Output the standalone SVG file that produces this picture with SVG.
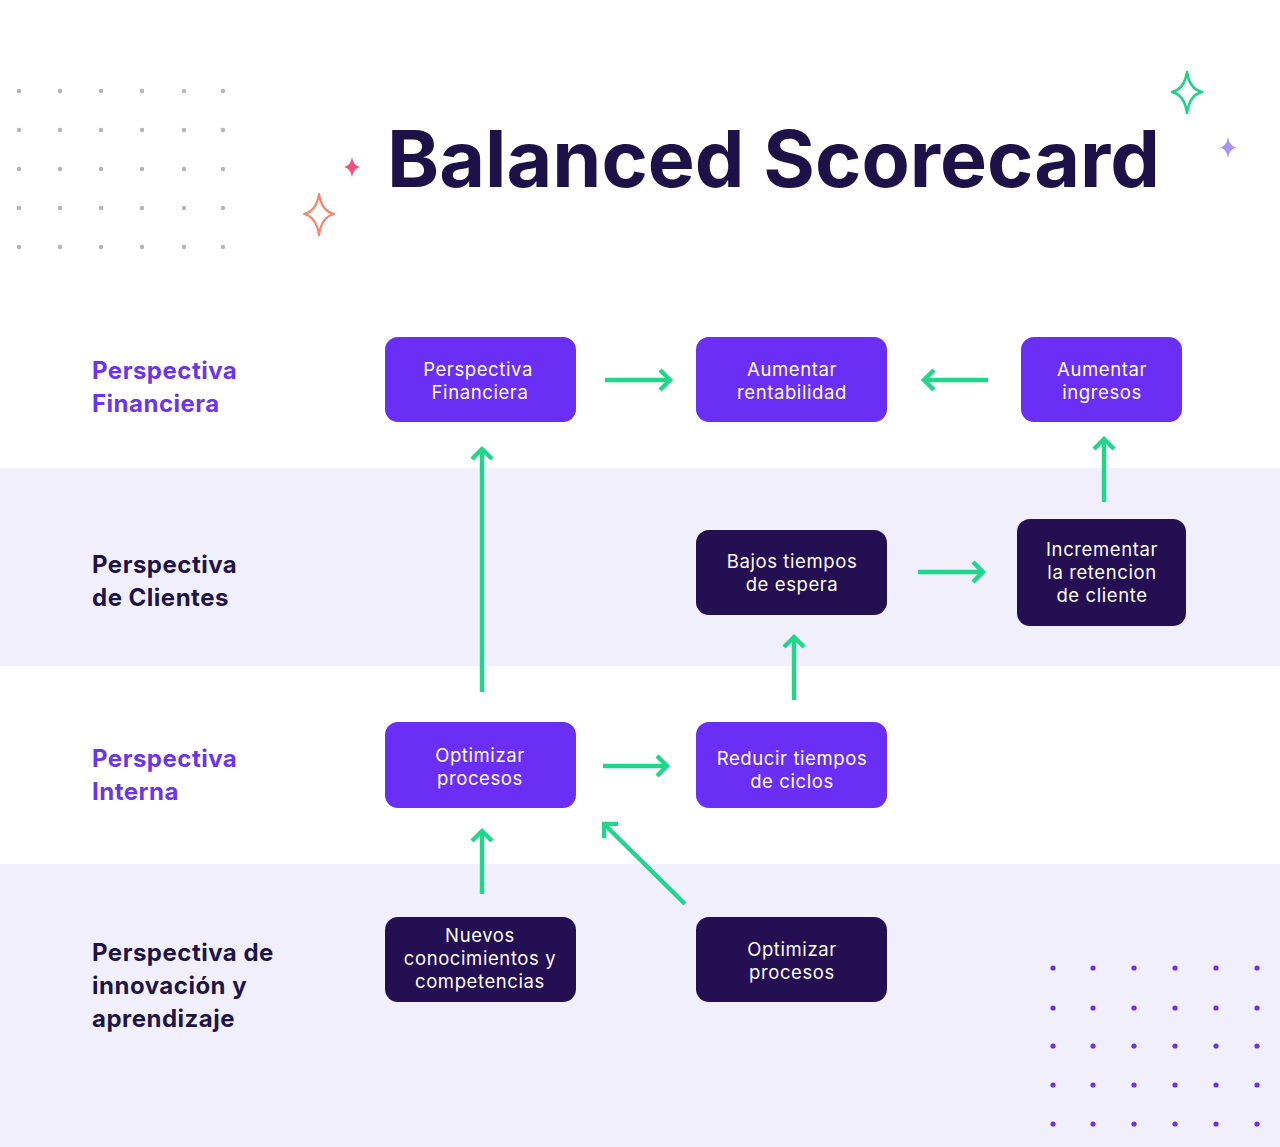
<svg xmlns="http://www.w3.org/2000/svg" width="1280" height="1147" viewBox="0 0 1280 1147">
<defs>
<style>
.band{fill:#f1effb}
.dotg{fill:#b3b3b8}
.dotp{fill:#6a32ea}
.title{font-family:Inter,"Noto Sans","Liberation Sans",sans-serif;font-weight:700;font-size:78px;fill:#1c1248}
.lab{font-family:Inter,"Noto Sans","Liberation Sans",sans-serif;font-weight:700;font-size:24px;letter-spacing:0.5px}
.labp{fill:#6a35ef}
.labd{fill:#1e1446}
.np{fill:#6b2ef5}
.nd{fill:#240f52}
.nt{font-family:Inter,"Noto Sans","Liberation Sans",sans-serif;font-weight:400;font-size:18.5px;letter-spacing:0.6px;fill:#ffffff;text-anchor:middle}
.arr{stroke:#1fd68b;stroke-width:4.4;fill:none;marker-end:url(#ah)}
</style>
<marker id="ah" markerUnits="userSpaceOnUse" markerWidth="30" markerHeight="30" viewBox="-15 -15 30 30" refX="0" refY="0" orient="auto">
<path d="M-10,-10 L0,0 L-10,10" fill="none" stroke="#1fd68b" stroke-width="4.4" stroke-linecap="butt" stroke-linejoin="miter"/>
</marker>
</defs>
<rect width="1280" height="1147" fill="#ffffff"/>
<rect class="band" x="0" y="468" width="1280" height="198"/>
<rect class="band" x="0" y="864" width="1280" height="283"/>

<g id="dots-top-left">
<g class="dotg">
<circle cx="19" cy="91" r="2.2"/><circle cx="60" cy="91" r="2.2"/><circle cx="101" cy="91" r="2.2"/><circle cx="142" cy="91" r="2.2"/><circle cx="184" cy="91" r="2.2"/><circle cx="223" cy="91" r="2.2"/>
<circle cx="19" cy="130" r="2.2"/><circle cx="60" cy="130" r="2.2"/><circle cx="101" cy="130" r="2.2"/><circle cx="142" cy="130" r="2.2"/><circle cx="184" cy="130" r="2.2"/><circle cx="223" cy="130" r="2.2"/>
<circle cx="19" cy="169" r="2.2"/><circle cx="60" cy="169" r="2.2"/><circle cx="101" cy="169" r="2.2"/><circle cx="142" cy="169" r="2.2"/><circle cx="184" cy="169" r="2.2"/><circle cx="223" cy="169" r="2.2"/>
<circle cx="19" cy="208" r="2.2"/><circle cx="60" cy="208" r="2.2"/><circle cx="101" cy="208" r="2.2"/><circle cx="142" cy="208" r="2.2"/><circle cx="184" cy="208" r="2.2"/><circle cx="223" cy="208" r="2.2"/>
<circle cx="19" cy="247" r="2.2"/><circle cx="60" cy="247" r="2.2"/><circle cx="101" cy="247" r="2.2"/><circle cx="142" cy="247" r="2.2"/><circle cx="184" cy="247" r="2.2"/><circle cx="223" cy="247" r="2.2"/>
</g>
</g>
<g id="dots-bottom-right">
<g class="dotp">
<circle cx="1053" cy="968" r="2.6"/><circle cx="1093" cy="968" r="2.6"/><circle cx="1134" cy="968" r="2.6"/><circle cx="1175" cy="968" r="2.6"/><circle cx="1216" cy="968" r="2.6"/><circle cx="1257" cy="968" r="2.6"/>
<circle cx="1053" cy="1008" r="2.6"/><circle cx="1093" cy="1008" r="2.6"/><circle cx="1134" cy="1008" r="2.6"/><circle cx="1175" cy="1008" r="2.6"/><circle cx="1216" cy="1008" r="2.6"/><circle cx="1257" cy="1008" r="2.6"/>
<circle cx="1053" cy="1046" r="2.6"/><circle cx="1093" cy="1046" r="2.6"/><circle cx="1134" cy="1046" r="2.6"/><circle cx="1175" cy="1046" r="2.6"/><circle cx="1216" cy="1046" r="2.6"/><circle cx="1257" cy="1046" r="2.6"/>
<circle cx="1053" cy="1085" r="2.6"/><circle cx="1093" cy="1085" r="2.6"/><circle cx="1134" cy="1085" r="2.6"/><circle cx="1175" cy="1085" r="2.6"/><circle cx="1216" cy="1085" r="2.6"/><circle cx="1257" cy="1085" r="2.6"/>
<circle cx="1053" cy="1124" r="2.6"/><circle cx="1093" cy="1124" r="2.6"/><circle cx="1134" cy="1124" r="2.6"/><circle cx="1175" cy="1124" r="2.6"/><circle cx="1216" cy="1124" r="2.6"/><circle cx="1257" cy="1124" r="2.6"/>
</g>
</g>

<g id="stars">
<path d="M352,157 Q353.2,165.5 360,167 Q353.2,168.5 352,177 Q350.8,168.5 344,167 Q350.8,165.5 352,157 Z" fill="#f0507f"/>
<path d="M319,194 Q321.5,211 334,214 Q321.5,217 319,235 Q316.5,217 304,214 Q316.5,211 319,194 Z" fill="none" stroke="#f4866a" stroke-width="2.2" stroke-linejoin="round"/>
<path d="M1187,72 Q1189.5,89 1202,92 Q1189.5,95 1187,113 Q1184.5,95 1172,92 Q1184.5,89 1187,72 Z" fill="none" stroke="#1fd18a" stroke-width="2.6" stroke-linejoin="round"/>
<path d="M1228,137 Q1229.2,145.5 1236,147.5 Q1229.2,149.5 1228,158 Q1226.8,149.5 1220.5,147.5 Q1226.8,145.5 1228,137 Z" fill="#a895f7"/>
</g>

<text class="title" x="387" y="187" textLength="773" lengthAdjust="spacingAndGlyphs">Balanced Scorecard</text>

<g id="row-labels">
<text class="lab labp" x="92" y="379"><tspan x="92">Perspectiva</tspan><tspan x="92" dy="33">Financiera</tspan></text>
<text class="lab labd" x="92" y="573"><tspan x="92">Perspectiva</tspan><tspan x="92" dy="33">de Clientes</tspan></text>
<text class="lab labp" x="92" y="767"><tspan x="92">Perspectiva</tspan><tspan x="92" dy="33">Interna</tspan></text>
<text class="lab labd" x="92" y="961"><tspan x="92">Perspectiva de</tspan><tspan x="92" dy="33">innovación y</tspan><tspan x="92" dy="33">aprendizaje</tspan></text>
</g>

<g id="connectors">
<line class="arr" x1="605" y1="380" x2="670" y2="380"/>
<line class="arr" x1="988" y1="380" x2="924" y2="380"/>
<line class="arr" x1="1104" y1="502" x2="1104" y2="439"/>
<line class="arr" x1="482" y1="692" x2="482" y2="449"/>
<line class="arr" x1="918" y1="572" x2="983" y2="572"/>
<line class="arr" x1="794" y1="700" x2="794" y2="637"/>
<line class="arr" x1="603" y1="766" x2="667" y2="766"/>
<line class="arr" x1="482" y1="894" x2="482" y2="831"/>
<line class="arr" x1="685" y1="904" x2="604" y2="824"/>
</g>

<g id="node-perspectiva-financiera">
<rect class="np" x="385" y="337" width="191" height="85" rx="13"/>
<text class="nt" x="480" y="376"><tspan x="478">Perspectiva</tspan><tspan x="480" dy="23">Financiera</tspan></text>
</g>
<g id="node-aumentar-rentabilidad">
<rect class="np" x="696" y="337" width="191" height="85" rx="13"/>
<text class="nt" y="376"><tspan x="792">Aumentar</tspan><tspan x="792" dy="23">rentabilidad</tspan></text>
</g>
<g id="node-aumentar-ingresos">
<rect class="np" x="1021" y="337" width="161" height="85" rx="13"/>
<text class="nt" y="376"><tspan x="1102">Aumentar</tspan><tspan x="1102" dy="23">ingresos</tspan></text>
</g>
<g id="node-bajos-tiempos">
<rect class="nd" x="696" y="530" width="191" height="85" rx="13"/>
<text class="nt" y="568"><tspan x="792">Bajos tiempos</tspan><tspan x="792" dy="23">de espera</tspan></text>
</g>
<g id="node-incrementar-retencion">
<rect class="nd" x="1017" y="519" width="169" height="107" rx="13"/>
<text class="nt" y="556"><tspan x="1102">Incrementar</tspan><tspan x="1102" dy="23">la retencion</tspan><tspan x="1102" dy="23">de cliente</tspan></text>
</g>
<g id="node-optimizar-procesos">
<rect class="np" x="385" y="722" width="191" height="86" rx="13"/>
<text class="nt" y="762"><tspan x="480">Optimizar</tspan><tspan x="480" dy="23">procesos</tspan></text>
</g>
<g id="node-reducir-tiempos">
<rect class="np" x="696" y="722" width="191" height="86" rx="13"/>
<text class="nt" y="765"><tspan x="792">Reducir tiempos</tspan><tspan x="792" dy="23">de ciclos</tspan></text>
</g>
<g id="node-nuevos-conocimientos">
<rect class="nd" x="385" y="917" width="191" height="85" rx="13"/>
<text class="nt" y="942"><tspan x="480">Nuevos</tspan><tspan x="480" dy="23">conocimientos y</tspan><tspan x="480" dy="23">competencias</tspan></text>
</g>
<g id="node-optimizar-procesos-2">
<rect class="nd" x="696" y="917" width="191" height="85" rx="13"/>
<text class="nt" y="956"><tspan x="792">Optimizar</tspan><tspan x="792" dy="23">procesos</tspan></text>
</g>
</svg>
